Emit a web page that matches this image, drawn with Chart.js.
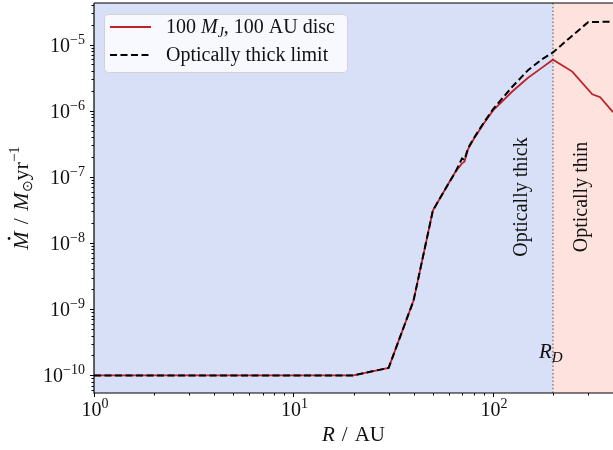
<!DOCTYPE html>
<html>
<head>
<meta charset="utf-8">
<script src="https://cdn.jsdelivr.net/npm/chart.js@4.4.0/dist/chart.umd.min.js"></script>
<style>
  html, body { margin: 0; padding: 0; background: #fff; }
  canvas { display: block; }
</style>
</head>
<body>
<canvas id="mdot-chart" width="613" height="450"></canvas>
<script>
// Темп потери массы диска: модель 100 M_J / 100 AU и предел оптически толстого случая
const discRadius = [1, 20, 30, 40, 50, 60, 65, 70, 72, 75, 80, 90, 100, 125, 150, 175, 200, 250, 315, 345, 400];
const discRate = [1e-10, 1e-10, 1.3e-10, 1.35e-9, 3.1e-8, 8e-8, 1.2e-7, 1.6e-7, 1.7e-7, 2.6e-7, 3.7e-7, 6.4e-7,
    1.0e-6, 1.95e-6, 3.15e-6, 4.4e-6, 5.9e-6, 3.9e-6, 1.77e-6, 1.6e-6, 9.5e-7];

const limitRadius = [1, 20, 30, 40, 50, 60, 65, 70, 72, 75, 80, 90, 100, 125, 150, 175, 200, 250, 300, 350, 400];
const limitRate = [1e-10, 1e-10, 1.3e-10, 1.35e-9, 3.1e-8, 8e-8, 1.2e-7, 1.9e-7, 1.8e-7, 2.7e-7, 3.8e-7, 6.6e-7,
    1.05e-6, 2.3e-6, 4.1e-6, 5.9e-6, 7.6e-6, 1.36e-5, 2.18e-5, 2.2e-5, 2.2e-5];

// Граница R_D между оптически толстой и тонкой областями
const discEdge = 200;

// Степени десяти для подписей осей
const xTickPowers = [0, 1, 2];
const yTickPowers = [-10, -9, -8, -7, -6, -5];

const FONT = '"Liberation Serif", "Times New Roman", serif';
const TEXT_COLOR = '#111';

function partFont(p) {
    return (p.italic ? 'italic ' : '') + (p.size || 20) + 'px ' + FONT;
}

function richWidth(ctx, parts) {
    let w = 0;
    for (const p of parts) {
        ctx.font = partFont(p);
        w += ctx.measureText(p.text).width;
    }
    return w;
}

// Текст из кусков: курсив, индексы, степени
function drawRich(ctx, parts, x, y, align) {
    const w = richWidth(ctx, parts);
    let cx = align === 'center' ? x - w / 2 : align === 'right' ? x - w : x;
    ctx.textAlign = 'left';
    ctx.textBaseline = 'alphabetic';
    for (const p of parts) {
        ctx.font = partFont(p);
        const pw = ctx.measureText(p.text).width;
        ctx.fillText(p.text, cx, y + (p.dy || 0));
        if (p.dot) {
            const s = p.size || 20;
            ctx.beginPath();
            ctx.arc(cx + pw * 0.62, y - s * 0.86, 1.4, 0, Math.PI * 2);
            ctx.fill();
        }
        cx += pw;
    }
}

function powerLabel(n) {
    const exp = n < 0 ? '\u2212' + Math.abs(n) : String(n);
    return [{text: '10'}, {text: exp, size: 14, dy: -8}];
}

// Фон областей и вертикальная линия R_D
const regionsPlugin = {
    id: 'regions',
    beforeDatasetsDraw(chart) {
        const {ctx, chartArea, scales} = chart;
        const xe = scales.x.getPixelForValue(discEdge);
        ctx.save();
        ctx.fillStyle = 'rgb(216,224,247)';
        ctx.fillRect(chartArea.left, chartArea.top, xe - chartArea.left, chartArea.bottom - chartArea.top);
        ctx.fillStyle = 'rgb(253,226,222)';
        ctx.fillRect(xe, chartArea.top, chartArea.right - xe, chartArea.bottom - chartArea.top);

        ctx.strokeStyle = 'rgba(120,120,120,0.9)';
        ctx.lineWidth = 1.5;
        ctx.setLineDash([1.5, 2.2]);
        ctx.beginPath();
        ctx.moveTo(xe, chartArea.top);
        ctx.lineTo(xe, chartArea.bottom);
        ctx.stroke();
        ctx.restore();
    }
};

// Оси, деления, подписи и легенда в стиле matplotlib
const axesPlugin = {
    id: 'mplAxes',
    afterDraw(chart) {
        const {ctx, chartArea, scales} = chart;
        const {left, right, top, bottom} = chartArea;
        const xs = scales.x, ys = scales.y;
        ctx.save();
        ctx.fillStyle = TEXT_COLOR;
        ctx.strokeStyle = '#000';

        // рамка
        ctx.lineWidth = 1.2;
        ctx.beginPath();
        ctx.moveTo(left, top);
        ctx.lineTo(left, bottom);
        ctx.lineTo(right, bottom);
        ctx.moveTo(left, top);
        ctx.lineTo(right, top);
        ctx.stroke();

        // деления оси x
        ctx.lineWidth = 1;
        for (let p = 0; p <= 2; p++) {
            for (let m = 1; m <= 9; m++) {
                const v = m * Math.pow(10, p);
                if (v < xs.min || v > xs.max) continue;
                const px = Math.round(xs.getPixelForValue(v)) + 0.5;
                const len = m === 1 ? 4 : 2.5;
                ctx.beginPath();
                ctx.moveTo(px, bottom);
                ctx.lineTo(px, bottom + len);
                ctx.stroke();
            }
        }
        // деления оси y
        for (let p = -11; p <= -5; p++) {
            for (let m = 1; m <= 9; m++) {
                const v = m * Math.pow(10, p);
                if (v < ys.min || v > ys.max) continue;
                const py = Math.round(ys.getPixelForValue(v)) + 0.5;
                const len = m === 1 ? 4 : 2.5;
                ctx.beginPath();
                ctx.moveTo(left, py);
                ctx.lineTo(left - len, py);
                ctx.stroke();
            }
        }

        // подписи делений
        for (const p of xTickPowers) {
            const px = xs.getPixelForValue(Math.pow(10, p));
            drawRich(ctx, powerLabel(p), px + 1, bottom + 23, 'center');
        }
        for (const p of yTickPowers) {
            const py = ys.getPixelForValue(Math.pow(10, p));
            drawRich(ctx, powerLabel(p), left - 9, py + 7, 'right');
        }

        // заголовки осей
        drawRich(ctx, [
            {text: 'R', italic: true, size: 21},
            {text: '\u2004/\u2004AU', size: 21}
        ], (left + right) / 2, 441, 'center');

        ctx.save();
        ctx.translate(28, (top + bottom) / 2);
        ctx.rotate(-Math.PI / 2);
        drawRich(ctx, [
            {text: 'M', italic: true, dot: true, size: 22},
            {text: '\u2004/\u2004', size: 22},
            {text: 'M', italic: true, size: 22},
            {text: '\u2299', size: 14, dy: 4},
            {text: 'yr', size: 22},
            {text: '\u22121', size: 15, dy: -9}
        ], 0, 0, 'center');
        ctx.restore();

        // подписи областей
        const xe = xs.getPixelForValue(discEdge);
        ctx.font = '20px ' + FONT;
        ctx.textAlign = 'center';
        ctx.textBaseline = 'middle';
        ctx.save();
        ctx.translate(xe - 31, 197);
        ctx.rotate(-Math.PI / 2);
        ctx.fillText('Optically thick', 0, 0);
        ctx.restore();
        ctx.save();
        ctx.translate(xe + 29, 197);
        ctx.rotate(-Math.PI / 2);
        ctx.fillText('Optically thin', 0, 0);
        ctx.restore();

        drawRich(ctx, [
            {text: 'R', italic: true, size: 21},
            {text: 'D', italic: true, size: 15, dy: 4}
        ], xe - 14, 358, 'left');

        // легенда
        ctx.fillStyle = 'rgba(255,255,255,0.8)';
        ctx.strokeStyle = 'rgba(204,204,204,0.8)';
        ctx.lineWidth = 1;
        ctx.beginPath();
        ctx.roundRect(104.5, 14.5, 243, 58, 4);
        ctx.fill();
        ctx.stroke();

        ctx.setLineDash([]);
        ctx.strokeStyle = chart.data.datasets[1].borderColor;
        ctx.lineWidth = 1.8;
        ctx.beginPath();
        ctx.moveTo(110, 27);
        ctx.lineTo(151, 27);
        ctx.stroke();

        ctx.strokeStyle = '#000';
        ctx.lineWidth = 2;
        ctx.setLineDash([7, 3.5]);
        ctx.beginPath();
        ctx.moveTo(110, 55);
        ctx.lineTo(151, 55);
        ctx.stroke();
        ctx.setLineDash([]);

        ctx.fillStyle = TEXT_COLOR;
        drawRich(ctx, [
            {text: '100 '},
            {text: 'M', italic: true},
            {text: 'J', italic: true, size: 14, dy: 4},
            {text: ', 100 AU disc'}
        ], 166, 33, 'left');
        drawRich(ctx, [{text: 'Optically thick limit'}], 166, 61, 'left');

        ctx.restore();
    }
};

const toPoints = (xs, ys) => xs.map((x, i) => ({x: x, y: ys[i]}));

new Chart(document.getElementById('mdot-chart'), {
    type: 'line',
    data: {
        datasets: [
            {
                label: 'Optically thick limit',
                data: toPoints(limitRadius, limitRate),
                borderColor: '#000',
                borderWidth: 2,
                borderDash: [7, 3.5],
                pointRadius: 0,
                tension: 0,
                order: 0
            },
            {
                label: '100 M_J, 100 AU disc',
                data: toPoints(discRadius, discRate),
                borderColor: 'rgb(190,35,40)',
                borderWidth: 1.8,
                pointRadius: 0,
                tension: 0,
                order: 1
            }
        ]
    },
    options: {
        responsive: false,
        animation: false,
        devicePixelRatio: 1,
        layout: {padding: {left: 94, top: 3, right: 0, bottom: 57}},
        plugins: {legend: {display: false}, tooltip: {enabled: false}},
        scales: {
            x: {type: 'logarithmic', min: 1, max: 400, display: false},
            y: {type: 'logarithmic', min: 5.42e-11, max: 4.24e-5, display: false}
        }
    },
    plugins: [regionsPlugin, axesPlugin]
});
</script>
</body>
</html>
